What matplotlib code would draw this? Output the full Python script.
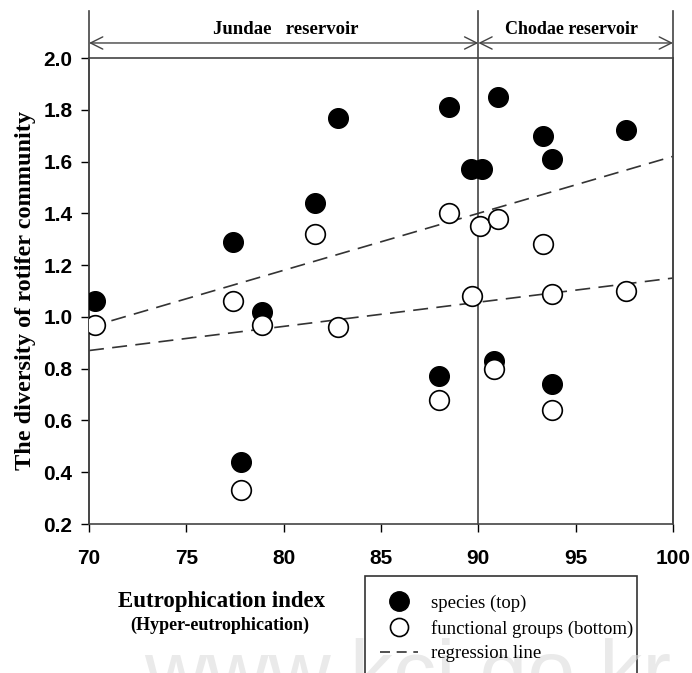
import matplotlib
matplotlib.use("Agg")
import matplotlib.pyplot as plt
from matplotlib.patches import Rectangle
from matplotlib.lines import Line2D

# eutrophication index of each sample
eutro_idx = [70.3, 77.4, 77.8, 78.9, 81.6, 82.8, 88.0, 88.5, 89.6, 90.2,
             91.0, 90.8, 93.3, 93.8, 93.8, 97.6]
# diversity: species (filled) and functional groups (open)
species_div = [1.06, 1.29, 0.44, 1.02, 1.44, 1.77, 0.77, 1.81, 1.57, 1.57,
               1.85, 0.83, 1.70, 1.61, 0.74, 1.72]
func_x = [70.3, 77.4, 77.8, 78.9, 81.6, 82.8, 88.0, 88.5, 89.7, 90.1,
          91.0, 90.8, 93.3, 93.8, 93.8, 97.6]
func_div = [0.97, 1.06, 0.33, 0.97, 1.32, 0.96, 0.68, 1.40, 1.08, 1.35,
            1.38, 0.80, 1.28, 1.09, 0.64, 1.10]

# regression lines as drawn (end points)
reg_x = [70, 100]
reg_species = [0.96, 1.62]
reg_func = [0.87, 1.15]

xticks = [70, 75, 80, 85, 90, 95, 100]
yticks = [0.2, 0.4, 0.6, 0.8, 1.0, 1.2, 1.4, 1.6, 1.8, 2.0]

tick_font = ['Liberation Sans Narrow', 'Liberation Sans', 'DejaVu Sans']
serif = ['Liberation Serif', 'DejaVu Serif']
W, H = 692, 673

fig = plt.figure(figsize=(W / 100, H / 100), dpi=100)
ax = fig.add_axes([89 / W, 1 - 524 / H, (673 - 89) / W, (524 - 58) / H])

ax.plot(reg_x, reg_species, color='#333333', lw=1.2, dashes=(9, 5), zorder=2)
ax.plot(reg_x, reg_func, color='#333333', lw=1.2, dashes=(9, 5), zorder=2)
ax.scatter(eutro_idx, species_div, s=200, color='black', zorder=3)
ax.scatter(func_x, func_div, s=200, facecolor='white', edgecolor='black',
           linewidth=1.2, zorder=4)

ax.set_xlim(70, 100)
ax.set_ylim(0.2, 2.0)
ax.set_xticks(xticks)
ax.set_yticks(yticks)
ax.set_yticklabels([f'{v:.1f}' for v in yticks])
ax.tick_params(direction='out', length=6, width=1)
ax.tick_params(axis='x', pad=12)
ax.tick_params(axis='y', pad=6)
for lab in ax.get_xticklabels() + ax.get_yticklabels():
    lab.set_family(tick_font)
    lab.set_fontweight('bold')
    lab.set_fontsize(15)
for sp in ax.spines.values():
    sp.set_linewidth(1.2)
    sp.set_color('#444444')

# reservoir divider and extended frame above the plot
top = 2.18
for xv in [70, 90, 100]:
    ax.plot([xv, xv], [0.2, top], color='#444444', lw=1.2, clip_on=False, zorder=1)
arr_y = 2.058
for x0, x1 in [(70, 90), (90, 100)]:
    ax.annotate('', xy=(x1, arr_y), xytext=(x0, arr_y), annotation_clip=False,
                arrowprops=dict(arrowstyle='<->', color='#444444', lw=1,
                                mutation_scale=22, shrinkA=0, shrinkB=0))
ax.text(80.1, 2.11, 'Jundae   reservoir', ha='center', va='center',
        family=serif, fontweight='bold', fontsize=13.5)
ax.text(94.8, 2.11, 'Chodae reservoir', ha='center', va='center',
        family=serif, fontweight='bold', fontsize=13)

ax.set_ylabel('The diversity of rotifer community', family=serif,
              fontweight='bold', fontsize=17.5, labelpad=5)

fig.text(222 / W, 1 - 602 / H, 'Eutrophication index', ha='center',
         va='center', family=serif, fontweight='bold', fontsize=16.5)
fig.text(220 / W, 1 - 625 / H, '(Hyper-eutrophication)', ha='center',
         va='center', family=serif, fontweight='bold', fontsize=13)

# legend box, cut off at the bottom edge
fig.patches.append(Rectangle((365 / W, -0.05), (637 - 365) / W,
                             (0.05 + 1 - 576 / H), transform=fig.transFigure,
                             facecolor='white', edgecolor='#333333', lw=1.2,
                             zorder=1))

# faint site watermark, only its top shows as in the source image
fig.text(408 / W, (H - 700) / H, 'www.kci.go.kr', ha='center', va='baseline',
         fontsize=62, color='#dcdcdc', alpha=0.6,
         family=['Liberation Sans', 'DejaVu Sans'], zorder=2)

handles = [
    Line2D([], [], ls='none', marker='o', ms=14, mfc='black', mec='black'),
    Line2D([], [], ls='none', marker='o', ms=13, mfc='white', mec='black', mew=1.2),
    Line2D([], [], color='#333333', lw=1.2, dashes=(6, 4)),
]
fig.legend(handles, ['species (top)', 'functional groups (bottom)', 'regression line'],
           loc='upper left', bbox_to_anchor=(371 / W, 1 - 585 / H),
           frameon=False, prop={'family': serif, 'size': 13.5},
           handlelength=2.0, handletextpad=0.7, labelspacing=0.42,
           borderpad=0)

fig.savefig('out.png', dpi=100)
